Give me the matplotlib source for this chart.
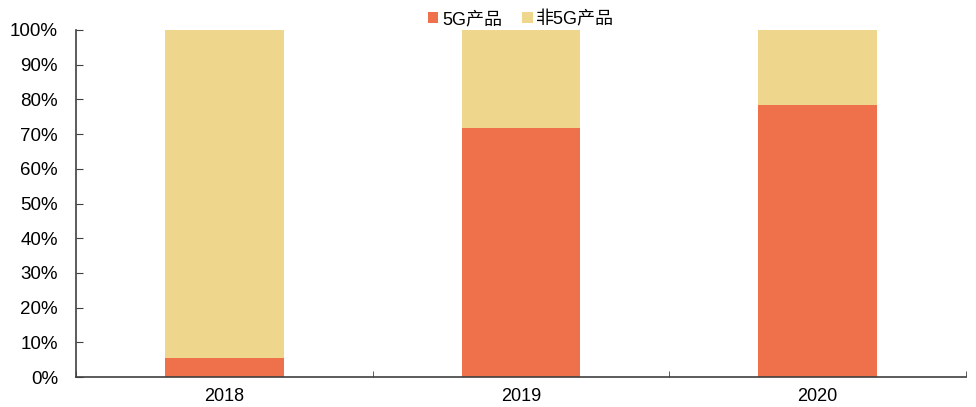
import matplotlib
matplotlib.use('Agg')
import matplotlib.pyplot as plt
import numpy as np
from matplotlib.ticker import FuncFormatter, FixedLocator

plt.rcParams['font.family'] = ['Liberation Sans', 'Noto Sans CJK SC', 'DejaVu Sans']

years = ['2018', '2019', '2020']
share_5g = [5.4, 71.7, 78.5]
share_other = [100 - v for v in share_5g]

orange = '#EE714B'
yellow = '#EED78C'

fig = plt.figure(figsize=(9.76, 4.07), dpi=100)
ax = fig.add_axes([76 / 976, 30 / 407, 890 / 976, 347 / 407])

x = np.arange(len(years))
ax.bar(x, share_5g, width=0.4, color=orange, label='5G产品')
ax.bar(x, share_other, width=0.4, bottom=share_5g, color=yellow, label='非5G产品')

ax.set_xlim(-0.5, len(years) - 0.5)
ax.set_ylim(0, 100)
ax.set_yticks(np.arange(0, 101, 10))
ax.yaxis.set_major_formatter(FuncFormatter(lambda v, p: '%d%%' % v))
ax.set_xticks(x)
ax.set_xticklabels(years)
ax.tick_params(axis='x', length=0, labelsize=13, pad=8)
ax.xaxis.set_minor_locator(FixedLocator(np.arange(-0.5, len(years), 1)))
ax.tick_params(axis='x', which='minor', direction='in', length=4, color='#404040')
ax.tick_params(axis='y', direction='in', length=5, labelsize=13.5, pad=13, color='#404040')

for s in ['top', 'right']:
    ax.spines[s].set_visible(False)
for s in ['left', 'bottom']:
    ax.spines[s].set_color('#404040')
    ax.spines[s].set_linewidth(1.2)

ax.legend(loc='lower center', bbox_to_anchor=(0.5, 0.985), ncol=2, frameon=False,
          fontsize=13, handlelength=0.6, handleheight=0.6, handletextpad=0.2,
          columnspacing=1.1, borderaxespad=0)

fig.savefig('out.png', dpi=100)
